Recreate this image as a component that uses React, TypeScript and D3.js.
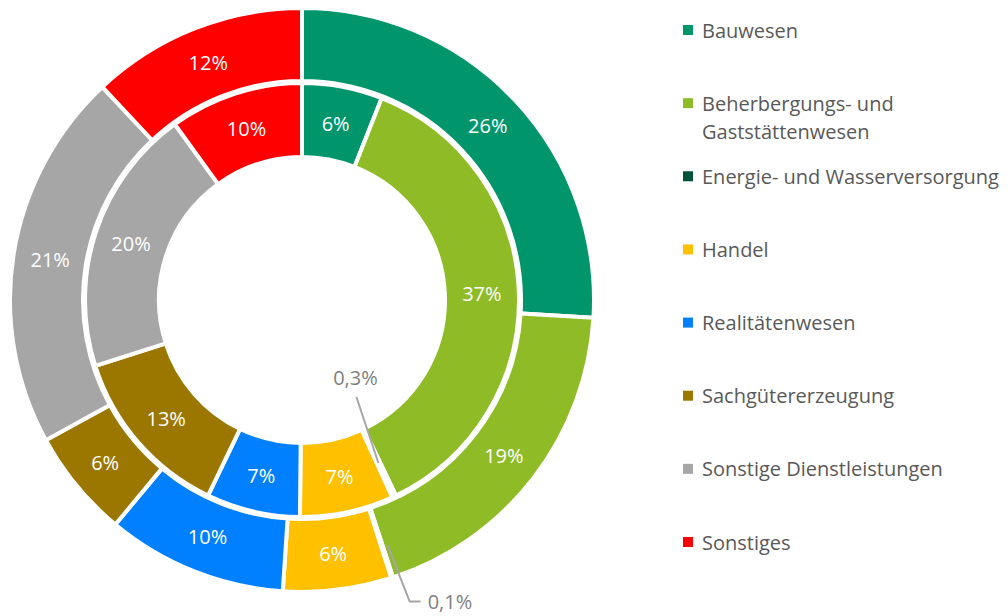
import * as d3 from 'd3';
import React from 'react';

const categories = [
  'Bauwesen',
  'Beherbergungs- und Gaststättenwesen',
  'Energie- und Wasserversorgung',
  'Handel',
  'Realitätenwesen',
  'Sachgütererzeugung',
  'Sonstige Dienstleistungen',
  'Sonstiges',
];
const legendLines = [
  ['Bauwesen'],
  ['Beherbergungs- und', 'Gaststättenwesen'],
  ['Energie- und Wasserversorgung'],
  ['Handel'],
  ['Realitätenwesen'],
  ['Sachgütererzeugung'],
  ['Sonstige Dienstleistungen'],
  ['Sonstiges'],
];
const colors = ['#00956b', '#8fbc26', '#00523a', '#ffc000', '#0080ff', '#9c7700', '#a6a6a6', '#ff0000'];
const outerValues = [26, 19, 0.1, 6, 10, 6, 21, 12];
const innerValues = [6, 37, 0.3, 7, 7, 13, 20, 10];

const width = 1008;
const height = 616;
const cx = 302;
const cy = 300;
const font = '"Open Sans", Lato, sans-serif';

const fmt = (v: number) => String(v).replace('.', ',') + '%';

export default function App() {
  const pie = d3.pie<number>().sort(null).value((d) => d);
  const outerArcs = pie(outerValues);
  const innerArcs = pie(innerValues);
  const outerArc = d3.arc<d3.PieArcDatum<number>>().innerRadius(219).outerRadius(292);
  const innerArc = d3.arc<d3.PieArcDatum<number>>().innerRadius(143).outerRadius(217);
  const labelOuter = d3.arc<d3.PieArcDatum<number>>().innerRadius(255).outerRadius(255);
  const labelInner = d3.arc<d3.PieArcDatum<number>>().innerRadius(180).outerRadius(180);

  const legendY = d3.scalePoint<string>().domain(categories).range([30, 542]);

  const renderRing = (
    arcs: d3.PieArcDatum<number>[],
    arc: d3.Arc<any, d3.PieArcDatum<number>>,
    label: d3.Arc<any, d3.PieArcDatum<number>>,
    ring: 'inner' | 'outer'
  ) => (
    <g>
      {arcs.map((a, i) => (
        <path key={'p' + i} d={arc(a) || ''} fill={colors[i]} stroke="#fff" strokeWidth={4} strokeLinejoin="miter" />
      ))}
      {arcs.map((a, i) => {
        const [x, y] = label.centroid(a);
        if (a.data < 1) {
          // small slice: label outside with a leader line
          if (ring === 'inner') {
            return (
              <g key={'l' + i}>
                <line x1={x - 22} y1={y - 66} x2={x} y2={y} stroke="#a6a6a6" strokeWidth={2} />
                <text x={x - 23} y={y - 85} fill="#7f7f7f" fontSize={20} textAnchor="middle" dominantBaseline="central" fontFamily={font}>
                  {fmt(a.data)}
                </text>
              </g>
            );
          }
          const [sx, sy] = d3.arc<d3.PieArcDatum<number>>().innerRadius(258).outerRadius(258).centroid(a);
          return (
            <g key={'l' + i}>
              <polyline
                points={`${sx + 6},${sy} ${sx + 28},${sy + 56} ${sx + 39},${sy + 56}`}
                fill="none"
                stroke="#a6a6a6"
                strokeWidth={2}
              />
              <text x={sx + 46} y={sy + 56} fill="#7f7f7f" fontSize={20} textAnchor="start" dominantBaseline="central" fontFamily={font}>
                {fmt(a.data)}
              </text>
            </g>
          );
        }
        return (
          <text key={'l' + i} x={x} y={y} fill="#fff" fontSize={20} textAnchor="middle" dominantBaseline="central" fontFamily={font}>
            {fmt(a.data)}
          </text>
        );
      })}
    </g>
  );

  return (
    <svg width={width} height={height} style={{ position: 'absolute', left: 0, top: 0, background: '#fff' }}>
      <g transform={`translate(${cx},${cy})`}>
        {renderRing(outerArcs, outerArc, labelOuter, 'outer')}
        {renderRing(innerArcs, innerArc, labelInner, 'inner')}
      </g>
      <g>
        {categories.map((c, i) => {
          const y = legendY(c) as number;
          return (
            <g key={c}>
              <rect x={683} y={y - 5} width={10} height={10} fill={colors[i]} />
              {legendLines[i].map((t, j) => (
                <text key={j} x={702} y={y + j * 28} fill="#595959" fontSize={20} dominantBaseline="central" fontFamily={font}>
                  {t}
                </text>
              ))}
            </g>
          );
        })}
      </g>
    </svg>
  );
}
